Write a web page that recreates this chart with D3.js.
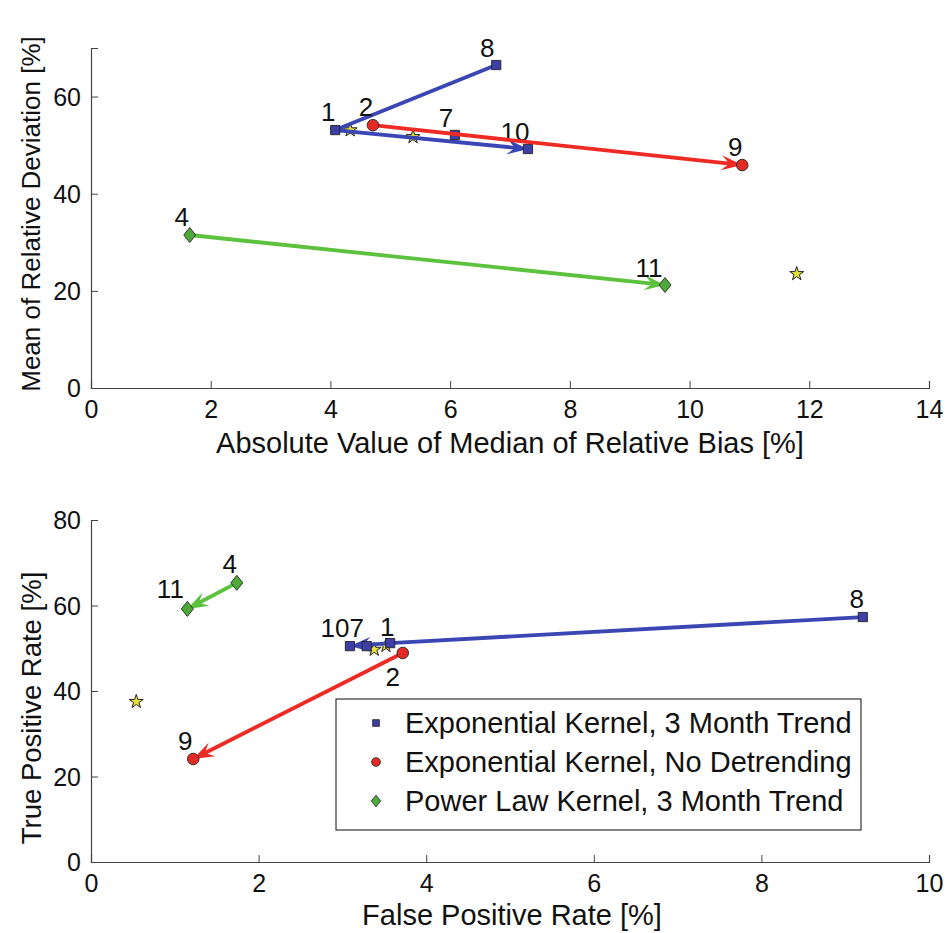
<!DOCTYPE html>
<html>
<head>
<meta charset="utf-8">
<script src="https://cdn.jsdelivr.net/npm/d3@7"></script>
<style>
  html, body { margin: 0; padding: 0; background: #fff; }
  svg { display: block; font-family: "Liberation Sans", Arial, Helvetica, sans-serif; }
</style>
</head>
<body>
<svg id="fig" width="947" height="933"></svg>
<script>
// ---- data -------------------------------------------------------------
const seriesNames = [
  "Exponential Kernel, 3 Month Trend",
  "Exponential Kernel, No Detrending",
  "Power Law Kernel, 3 Month Trend"
];

// Exponential kernel, 3 month trend (models 1, 7, 8, 10)
const blueIds  = [1, 7, 8, 10];
const blueBias = [4.08, 6.08, 6.77, 7.30];
const blueDev  = [53.1, 52.1, 66.5, 49.2];
const blueFPR  = [3.57, 3.29, 9.21, 3.09];
const blueTPR  = [51.2, 50.5, 57.3, 50.5];

// Exponential kernel, no detrending (models 2, 9)
const redIds  = [2, 9];
const redBias = [4.71, 10.88];
const redDev  = [54.1, 45.9];
const redFPR  = [3.72, 1.22];
const redTPR  = [48.9, 24.1];

// Power law kernel, 3 month trend (models 4, 11)
const greenIds  = [4, 11];
const greenBias = [1.65, 9.59];
const greenDev  = [31.5, 21.2];
const greenFPR  = [1.74, 1.15];
const greenTPR  = [65.3, 59.2];

// other models (star markers, unlabeled)
const otherBias = [4.33, 5.38, 11.79];
const otherDev  = [53.1, 51.7, 23.5];
const otherFPR  = [3.38, 3.52, 0.54];
const otherTPR  = [49.7, 50.6, 37.5];

// connections between models: [from, to, arrowhead]
const blueLinks  = [[8, 1, false], [1, 10, true]];
const redLinks   = [[2, 9, true]];
const greenLinks = [[4, 11, true]];

// axis ticks
const biasTicks = [0, 2, 4, 6, 8, 10, 12, 14];
const devTicks  = [0, 20, 40, 60];
const fprTicks  = [0, 2, 4, 6, 8, 10];
const tprTicks  = [0, 20, 40, 60, 80];

// ---- styling ----------------------------------------------------------
const colors = { blue: "#3a46b4", red: "#ee2a24", green: "#5cc13c", star: "#e6e23a" };
const markerFill = { blue: "#3d3fa6", red: "#e42a25", green: "#4fa93a" };

// label placement (dx, dy from marker centre, text baseline)
const labelOffTop = { 1: [-7, -9], 2: [-7, -9], 7: [-9, -8], 8: [-9, -8], 9: [-7, -9], 10: [-13, -8], 4: [-8, -9], 11: [-16, -8] };
const labelOffBot = { 1: [-3, -7], 2: [-10, 33], 7: [-10, -9], 8: [-6, -9], 9: [-8, -9], 10: [-15, -9], 4: [-7, -10], 11: [-17, -11] };

const svg = d3.select("#fig");

function buildSeries(ids, xs, ys) {
  return ids.map((id, i) => ({ id, x: xs[i], y: ys[i] }));
}

function drawPanel(cfg) {
  const g = svg.append("g");
  const x = d3.scaleLinear().domain(cfg.xDomain).range([cfg.left, cfg.right]);
  const y = d3.scaleLinear().domain(cfg.yDomain).range([cfg.bottom, cfg.top]);

  // axes (ticks pointing inward, MATLAB style)
  const xAxis = d3.axisBottom(x).tickValues(cfg.xTicks).tickSize(-7).tickPadding(12).tickFormat(d3.format("d"));
  const yAxis = d3.axisLeft(y).tickValues(cfg.yTicks).tickSize(-7).tickPadding(10).tickFormat(d3.format("d"));
  const gx = g.append("g").attr("transform", `translate(0,${cfg.bottom})`).call(xAxis);
  const gy = g.append("g").attr("transform", `translate(${cfg.left},0)`).call(yAxis);
  [gx, gy].forEach(a => {
    a.select(".domain").attr("stroke", "#444").attr("stroke-width", 1.2);
    a.selectAll(".tick line").attr("stroke", "#444").attr("stroke-width", 1);
    a.selectAll(".tick text").attr("fill", "#111").attr("font-size", 25).attr("font-family", null);
  });
  gx.selectAll(".tick text").attr("dy", "0.72em");
  gy.selectAll(".tick text").attr("dy", "0.34em");

  // axis titles
  g.append("text")
    .attr("x", (cfg.left + cfg.right) / 2 + cfg.xTitleShift)
    .attr("y", cfg.xTitleY)
    .attr("text-anchor", "middle").attr("font-size", cfg.xTitleSize).attr("fill", "#111")
    .text(cfg.xTitle);
  g.append("text")
    .attr("transform", `translate(${cfg.yTitleX},${cfg.yTitleCenter}) rotate(-90)`)
    .attr("text-anchor", "middle").attr("font-size", cfg.yTitleSize).attr("fill", "#111")
    .text(cfg.yTitle);

  // star markers for the remaining models
  const star = d3.symbol().type(d3.symbolStar).size(60);
  g.selectAll(".star").data(cfg.others).join("path")
    .attr("d", star)
    .attr("transform", d => `translate(${x(d.x)},${y(d.y)})`)
    .attr("fill", colors.star).attr("stroke", "#222").attr("stroke-width", 1);

  // connecting lines / arrows, then markers, one series at a time
  cfg.series.forEach(s => {
    const byId = new Map(s.points.map(p => [p.id, p]));
    s.links.forEach(([a, b, head]) => {
      const p = byId.get(a), q = byId.get(b);
      const x1 = x(p.x), y1 = y(p.y), x2 = x(q.x), y2 = y(q.y);
      const ang = Math.atan2(y2 - y1, x2 - x1);
      const L = 21, W = 7.5;
      const backX = head ? x2 - Math.cos(ang) * L * 0.6 : x2;
      const backY = head ? y2 - Math.sin(ang) * L * 0.6 : y2;
      g.append("line")
        .attr("x1", x1).attr("y1", y1).attr("x2", backX).attr("y2", backY)
        .attr("stroke", colors[s.key]).attr("stroke-width", 3.8).attr("stroke-linecap", "butt");
      if (head) {
        const hp = d3.path();
        hp.moveTo(0, 0);
        hp.lineTo(-L, -W);
        hp.lineTo(-L * 0.62, 0);
        hp.lineTo(-L, W);
        hp.closePath();
        g.append("path").attr("d", hp.toString())
          .attr("transform", `translate(${x2},${y2}) rotate(${ang * 180 / Math.PI})`)
          .attr("fill", colors[s.key]);
      }
    });
    const sym = d3.symbol().type(s.symbol).size(s.size);
    g.selectAll(null).data(s.points).join("path")
      .attr("d", sym)
      .attr("transform", d => `translate(${x(d.x)},${y(d.y)})`)
      .attr("fill", markerFill[s.key]).attr("stroke", "#222").attr("stroke-width", 0.9);
    g.selectAll(null).data(s.points).join("text")
      .attr("x", d => x(d.x) + cfg.labelOff[d.id][0])
      .attr("y", d => y(d.y) + cfg.labelOff[d.id][1])
      .attr("text-anchor", "middle").attr("font-size", 26).attr("fill", "#111")
      .text(d => d.id);
  });
  return { g, x, y };
}

const diamond = {
  draw(ctx, size) {
    const h = Math.sqrt(size) * 0.75, w = h * 0.8;
    ctx.moveTo(0, -h); ctx.lineTo(w, 0); ctx.lineTo(0, h); ctx.lineTo(-w, 0); ctx.closePath();
  }
};

function seriesFor(xsKey, ysKey) {
  const src = {
    blue:  { ids: blueIds,  bias: blueBias,  dev: blueDev,  fpr: blueFPR,  tpr: blueTPR,  links: blueLinks,  symbol: d3.symbolSquare, size: 85 },
    red:   { ids: redIds,   bias: redBias,   dev: redDev,   fpr: redFPR,   tpr: redTPR,   links: redLinks,   symbol: d3.symbolCircle, size: 105 },
    green: { ids: greenIds, bias: greenBias, dev: greenDev, fpr: greenFPR, tpr: greenTPR, links: greenLinks, symbol: diamond,        size: 100 }
  };
  return ["blue", "red", "green"].map(k => ({
    key: k,
    points: buildSeries(src[k].ids, src[k][xsKey], src[k][ysKey]),
    links: src[k].links,
    symbol: src[k].symbol,
    size: src[k].size
  }));
}

// ---- upper panel: bias vs deviation ----------------------------------
drawPanel({
  left: 91, right: 929, top: 48, bottom: 388,
  xDomain: [0, 14], yDomain: [0, 70],
  xTicks: biasTicks, yTicks: devTicks,
  xTitle: "Absolute Value of Median of Relative Bias [%]", xTitleY: 453, xTitleShift: 0, xTitleSize: 29,
  yTitle: "Mean of Relative Deviation [%]", yTitleX: 40, yTitleCenter: 214, yTitleSize: 26,
  series: seriesFor("bias", "dev"),
  others: otherBias.map((v, i) => ({ x: v, y: otherDev[i] })),
  labelOff: labelOffTop
});

// ---- lower panel: false vs true positive rate ------------------------
drawPanel({
  left: 91, right: 929, top: 520, bottom: 862,
  xDomain: [0, 10], yDomain: [0, 80],
  xTicks: fprTicks, yTicks: tprTicks,
  xTitle: "False Positive Rate [%]", xTitleY: 925, xTitleShift: 2, xTitleSize: 29,
  yTitle: "True Positive Rate [%]", yTitleX: 41, yTitleCenter: 708, yTitleSize: 27.5,
  series: seriesFor("fpr", "tpr"),
  others: otherFPR.map((v, i) => ({ x: v, y: otherTPR[i] })),
  labelOff: labelOffBot
});

// ---- legend -----------------------------------------------------------
const leg = svg.append("g").attr("transform", "translate(336,699)");
leg.append("rect").attr("width", 525).attr("height", 131)
  .attr("fill", "#fff").attr("stroke", "#333").attr("stroke-width", 1.2);
const legSymbols = [
  { sym: d3.symbol().type(d3.symbolSquare).size(45), fill: markerFill.blue },
  { sym: d3.symbol().type(d3.symbolCircle).size(60), fill: markerFill.red },
  { sym: d3.symbol().type(diamond).size(60), fill: markerFill.green }
];
seriesNames.forEach((name, i) => {
  const cy = 24 + i * 39;
  leg.append("path").attr("d", legSymbols[i].sym)
    .attr("transform", `translate(40,${cy})`)
    .attr("fill", legSymbols[i].fill).attr("stroke", "#222").attr("stroke-width", 0.8);
  leg.append("text").attr("x", 69).attr("y", cy + 10)
    .attr("font-size", 29).attr("fill", "#111").text(name);
});
</script>
</body>
</html>
